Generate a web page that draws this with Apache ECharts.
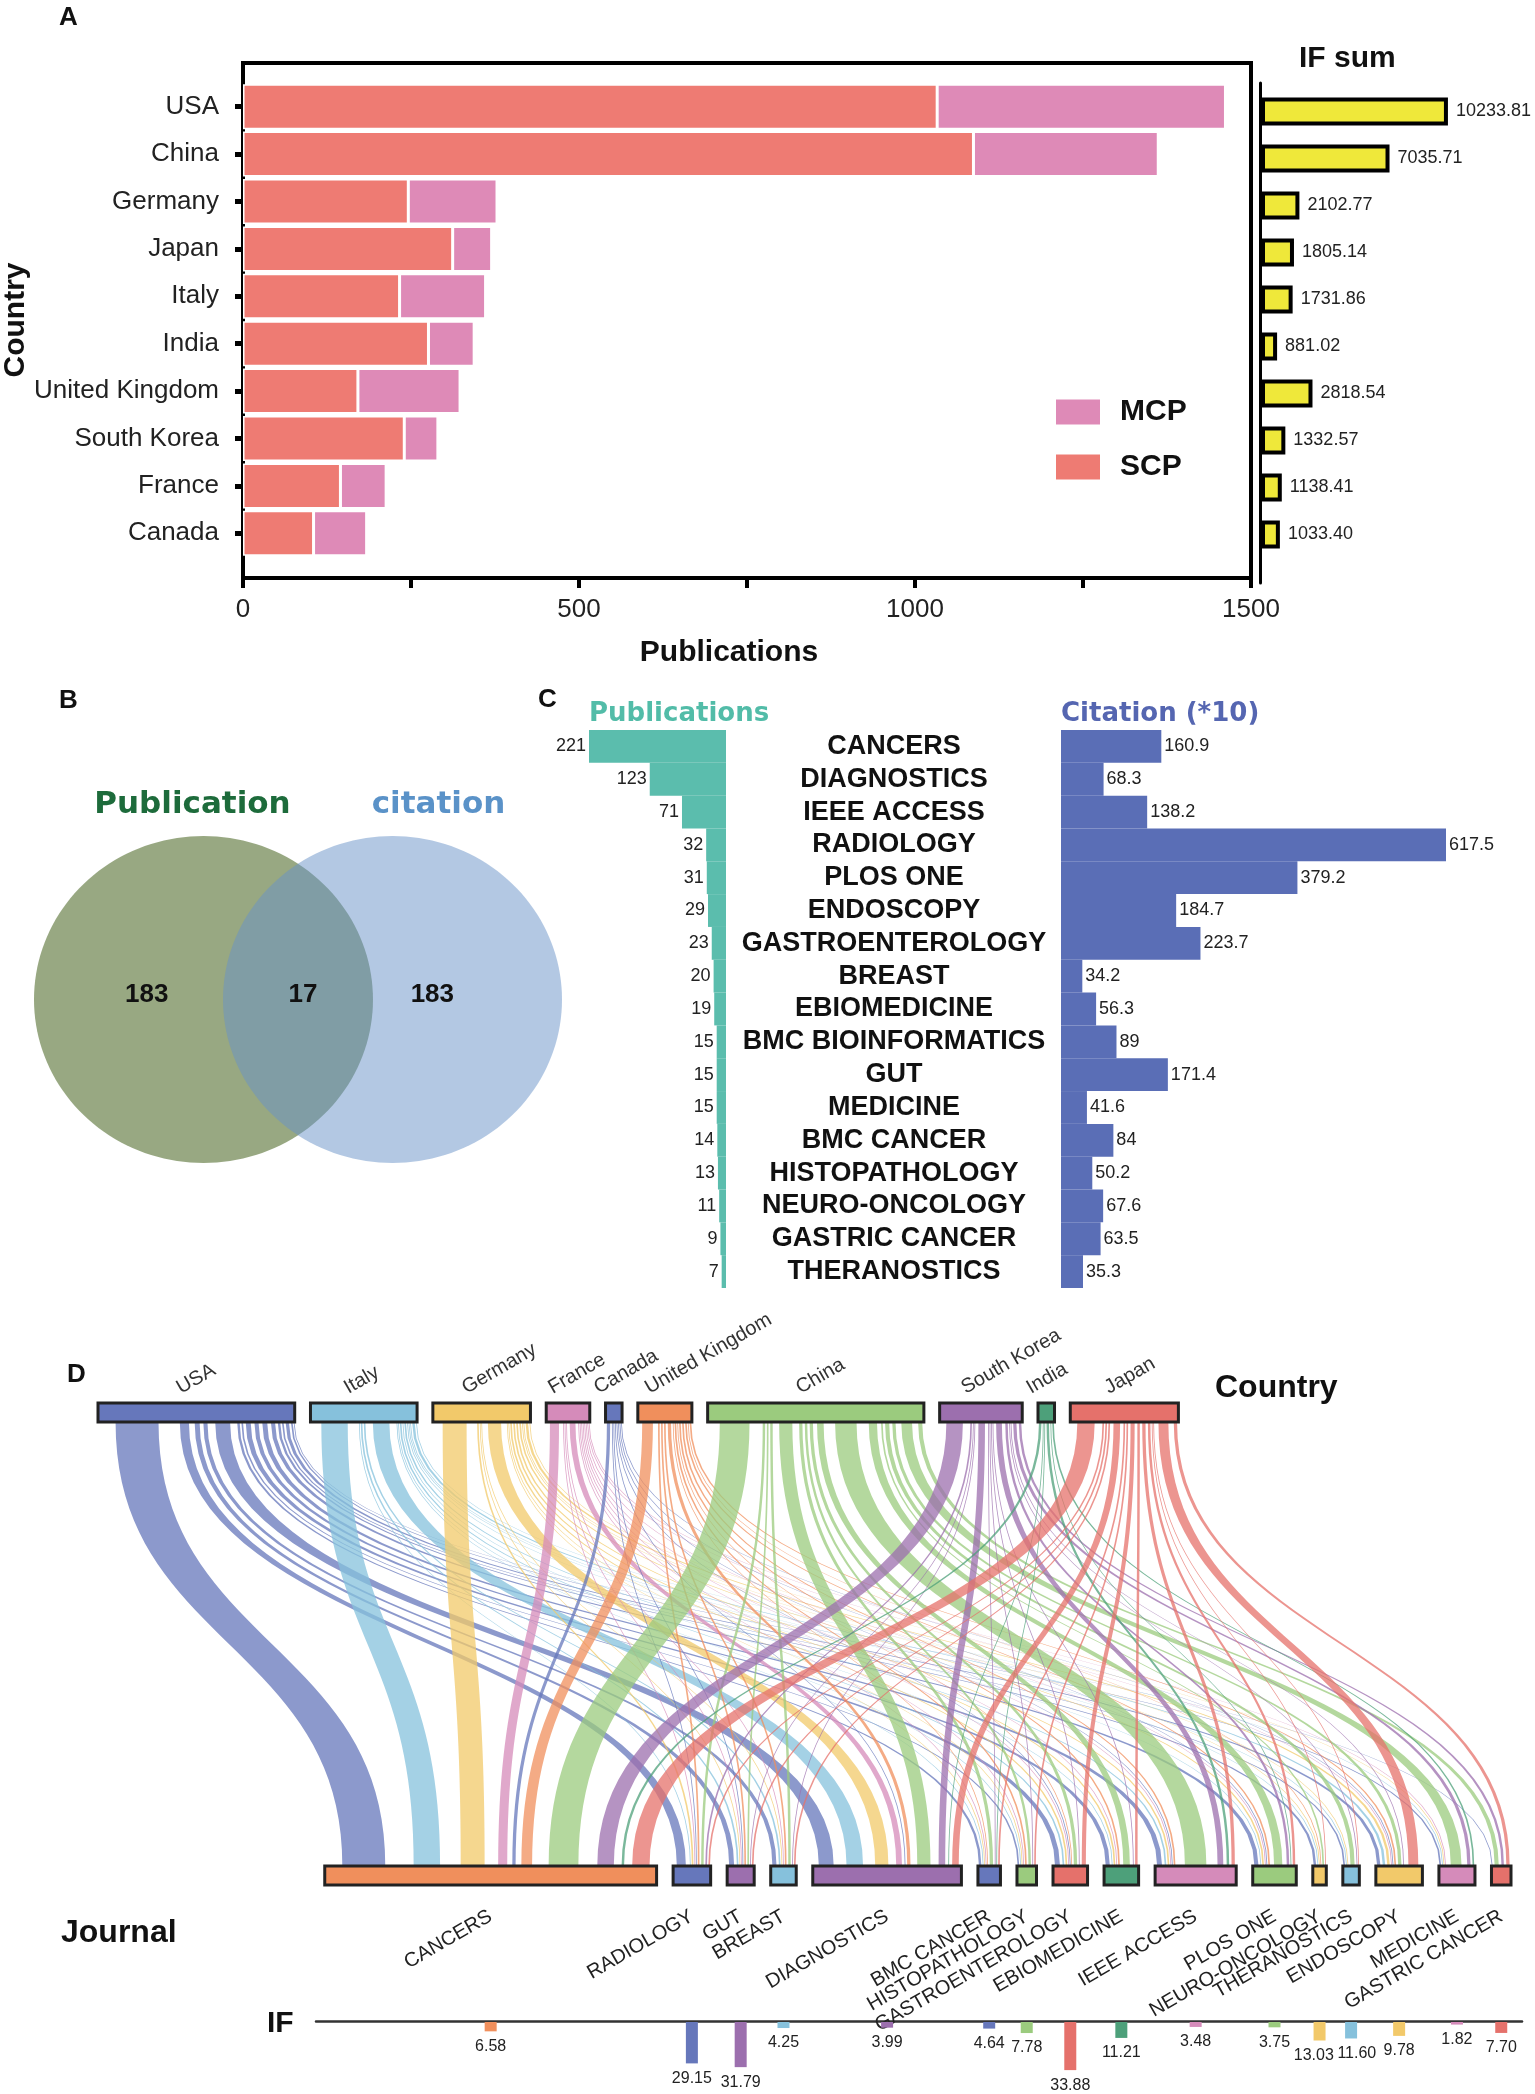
<!DOCTYPE html>
<html><head><meta charset="utf-8">
<script src="https://cdn.jsdelivr.net/npm/echarts/dist/echarts.min.js"></script>
<style>html,body{margin:0;padding:0;background:#fff}#c{width:1535px;height:2094px}</style>
</head><body><div id="c"></div>
<script>
// ---------------- Panel A data ----------------
const countriesA = ['USA', 'China', 'Germany', 'Japan', 'Italy', 'India', 'United Kingdom', 'South Korea', 'France', 'Canada'];
const scpValues = [1033, 1087, 246, 312, 233, 276, 171, 240, 145, 105];
const mcpValues = [429, 275, 132, 58, 128, 68, 152, 50, 68, 79];
const ifSumValues = [10233.81, 7035.71, 2102.77, 1805.14, 1731.86, 881.02, 2818.54, 1332.57, 1138.41, 1033.40];
const pubAxisLabels = [0, 500, 1000, 1500];

// ---------------- Panel B data ----------------
const vennNames = ['Publication', 'citation'];
const vennCounts = [183, 17, 183]; // publication only, both, citation only

// ---------------- Panel C data ----------------
const journalsC = ['CANCERS', 'DIAGNOSTICS', 'IEEE ACCESS', 'RADIOLOGY', 'PLOS ONE', 'ENDOSCOPY', 'GASTROENTEROLOGY', 'BREAST', 'EBIOMEDICINE', 'BMC BIOINFORMATICS', 'GUT', 'MEDICINE', 'BMC CANCER', 'HISTOPATHOLOGY', 'NEURO-ONCOLOGY', 'GASTRIC CANCER', 'THERANOSTICS'];
const pubsC = [221, 123, 71, 32, 31, 29, 23, 20, 19, 15, 15, 15, 14, 13, 11, 9, 7];
const citesC = [160.9, 68.3, 138.2, 617.5, 379.2, 184.7, 223.7, 34.2, 56.3, 89, 171.4, 41.6, 84, 50.2, 67.6, 63.5, 35.3];

// ---------------- Panel D data ----------------
const countriesD = ['USA', 'Italy', 'Germany', 'France', 'Canada', 'United Kingdom', 'China', 'South Korea', 'India', 'Japan'];
const countryColorsD = ['#6677BB', '#86C1DC', '#F2C96A', '#D58BBA', '#6677BB', '#F08F5C', '#9BCB7E', '#9C6FAE', '#4DA07A', '#E5716B'];
const journalsD = ['CANCERS', 'RADIOLOGY', 'GUT', 'BREAST', 'DIAGNOSTICS', 'BMC CANCER', 'HISTOPATHOLOGY', 'GASTROENTEROLOGY', 'EBIOMEDICINE', 'IEEE ACCESS', 'PLOS ONE', 'NEURO-ONCOLOGY', 'THERANOSTICS', 'ENDOSCOPY', 'MEDICINE', 'GASTRIC CANCER'];
const journalColorsD = ['#F08F5C', '#6677BB', '#9C6FAE', '#86C1DC', '#9C6FAE', '#6677BB', '#9BCB7E', '#E5716B', '#4DA07A', '#D58BBA', '#9BCB7E', '#F2C96A', '#86C1DC', '#F2C96A', '#D58BBA', '#E5716B'];
const journalIF = [6.58, 29.15, 31.79, 4.25, 3.99, 4.64, 7.78, 33.88, 11.21, 3.48, 3.75, 13.03, 11.60, 9.78, 1.82, 7.70];
// flows: publications from each country into each journal (journal order as journalsD)
const flowsUSA     = [52, 11, 6, 5, 18, 3, 2, 6, 5, 6, 5, 3, 2, 4, 2, 1];
const flowsItaly   = [32, 1, 2, 2, 20, 1, 1, 2, 1, 2, 1, 1, 1, 3, 1, 0];
const flowsGermany = [29, 2, 1, 1, 16, 1, 1, 2, 2, 2, 2, 1, 1, 3, 1, 0];
const flowsFrance  = [11, 1, 1, 1, 7, 1, 1, 1, 1, 1, 1, 0, 0, 1, 1, 0];
const flowsCanada  = [4, 1, 1, 0, 1, 0, 0, 1, 0, 1, 1, 0, 0, 1, 0, 0];
const flowsUK      = [13, 2, 2, 2, 4, 1, 2, 1, 2, 2, 2, 1, 0, 2, 0, 0];
const flowsChina   = [36, 3, 2, 3, 16, 4, 3, 4, 8, 26, 10, 2, 5, 4, 13, 5];
const flowsKorea   = [20, 2, 1, 1, 8, 1, 1, 1, 1, 7, 3, 0, 1, 1, 4, 3];
const flowsIndia   = [3, 0, 0, 0, 1, 1, 0, 0, 0, 3, 1, 0, 0, 0, 2, 0];
const flowsJapan   = [21, 2, 2, 2, 8, 2, 2, 5, 3, 4, 3, 1, 1, 12, 0, 4];
const flowMatrix = [flowsUSA, flowsItaly, flowsGermany, flowsFrance, flowsCanada, flowsUK, flowsChina, flowsKorea, flowsIndia, flowsJapan];

// ---------------- layout constants (style) ----------------
const FONT = '"Liberation Sans", Arial, sans-serif';
const HEAVY = '"DejaVu Sans", sans-serif';
const TOP_GAP = 10.5, BOT_GAP = 11, BOT_START = 151;
const NODE_H = 19, RIBBON_RATIO = 0.55;
const D_LEFT = 98, D_WIDTH = 1413, IF_LEFT = 316, IF_WIDTH = 1206;
const IF_TOP = 2021, IF_HEIGHT = 71, IF_AXIS_MAX = 50, IF_FONT = 16;

// ---------------- derived layout for the alluvial plot ----------------
const cTot = flowMatrix.map(r => r.reduce((a, b) => a + b, 0));
const jTot = journalsD.map((_, j) => flowMatrix.reduce((s, r) => s + r[j], 0));
const cX = []; let pos = 0;
cTot.forEach(t => { cX.push(pos); pos += t + TOP_GAP; });
const jX = []; pos = BOT_START;
jTot.forEach(t => { jX.push(pos); pos += t + BOT_GAP; });
const SPAN = pos - BOT_GAP;
const srcSlot = flowMatrix.map((r, i) => { let o = cX[i]; return r.map(v => { const s = o; o += v; return s; }); });
const tgtSlot = flowMatrix.map(r => r.map(() => 0));
journalsD.forEach((_, j) => { let o = jX[j]; flowMatrix.forEach((r, i) => { tgtSlot[i][j] = o; o += r[j]; }); });
const linkData = [];
flowMatrix.forEach((r, i) => r.forEach((v, j) => { if (v > 0) linkData.push([i, j, v, srcSlot[i][j], tgtSlot[i][j]]); }));
const nodeData = cTot.map((t, i) => [0, i, cX[i], t]).concat(jTot.map((t, j) => [1, j, jX[j], t]));
const ppu = D_WIDTH / SPAN;
const IF_MIN = (IF_LEFT - D_LEFT) / ppu, IF_MAX = IF_MIN + IF_WIDTH / ppu;

// IF labels: nudge apart labels that would collide (simple sweep)
const ifLabels = journalsD.map((_, j) => {
  const txt = journalIF[j].toFixed(2);
  const w = (txt.replace('.', '').length * 0.556 + 0.278) * IF_FONT;
  return { cx: (jX[j] + jTot[j] / 2) * ppu, y: journalIF[j] * IF_HEIGHT / IF_AXIS_MAX, w: w, dx: 0 };
});
for (let k = 1; k < ifLabels.length; k++) {
  const a = ifLabels[k - 1], b = ifLabels[k];
  const need = (a.w + b.w) / 2 + 3, have = (b.cx + b.dx) - (a.cx + a.dx);
  if (Math.abs(a.y - b.y) < IF_FONT && have < need) { const d = (need - have) / 2; a.dx -= d; b.dx += d; }
}
const ifData = journalsD.map((_, j) => [jX[j] + jTot[j] / 2, journalIF[j], j, ifLabels[j].dx]);

function cubic(p0, p1, p2, p3, t) { const u = 1 - t; return u * u * u * p0 + 3 * u * u * t * p1 + 3 * u * t * t * p2 + t * t * t * p3; }

function renderLink(params, api) {
  const ci = api.value(0), v = api.value(2), s = api.value(3), t = api.value(4);
  const half = v * RIBBON_RATIO / 2, sc = s + v / 2, tc = t + v / 2;
  const y0 = api.coord([0, 1])[1] + NODE_H;
  const y1 = api.coord([0, 0])[1] - NODE_H;
  const ym = (y0 + y1) / 2;
  const a0 = api.coord([sc - half, 1])[0], a1 = api.coord([sc + half, 1])[0];
  const b0 = api.coord([tc - half, 0])[0], b1 = api.coord([tc + half, 0])[0];
  const pts = [], N = 40;
  for (let k = 0; k <= N; k++) { const q = k / N; pts.push([cubic(a0, a0, b0, b0, q), cubic(y0, ym, ym, y1, q)]); }
  for (let k = N; k >= 0; k--) { const q = k / N; pts.push([cubic(a1, a1, b1, b1, q), cubic(y0, ym, ym, y1, q)]); }
  return { type: 'polygon', shape: { points: pts }, style: { fill: countryColorsD[ci], opacity: 0.75 } };
}

function renderNode(params, api) {
  const layer = api.value(0), idx = api.value(1), start = api.value(2), tot = api.value(3);
  const yv = layer === 0 ? 1 : 0;
  const p0 = api.coord([start, yv]), p1 = api.coord([start + tot, yv]);
  const y = layer === 0 ? p0[1] : p0[1] - NODE_H;
  const color = layer === 0 ? countryColorsD[idx] : journalColorsD[idx];
  const name = layer === 0 ? countriesD[idx] : journalsD[idx];
  const cx = (p0[0] + p1[0]) / 2;
  const label = layer === 0
    ? { type: 'text', x: cx - 13, y: y - 5, rotation: Math.PI / 6, style: { text: name, x: 0, y: 0, align: 'left', verticalAlign: 'bottom', font: '20px ' + FONT, fill: '#333' } }
    : { type: 'text', x: cx, y: y + NODE_H + 30, rotation: Math.PI / 6, style: { text: name, x: 0, y: 0, align: 'right', verticalAlign: 'middle', font: '20px ' + FONT, fill: '#222' } };
  return { type: 'group', children: [
    { type: 'rect', shape: { x: p0[0], y: y, width: p1[0] - p0[0], height: NODE_H }, style: { fill: color, stroke: '#222', lineWidth: 3 } },
    label
  ] };
}

function renderIF(params, api) {
  const x = api.value(0), v = api.value(1), ji = api.value(2), dx = api.value(3);
  const p0 = api.coord([x, 0]), p1 = api.coord([x, v]);
  return { type: 'group', children: [
    { type: 'rect', shape: { x: p0[0] - 6, y: p0[1] + 1, width: 12, height: p1[1] - p0[1] }, style: { fill: journalColorsD[ji] } },
    { type: 'text', style: { text: v.toFixed(2), x: p0[0] + dx, y: p1[1] + 8, align: 'center', verticalAlign: 'top', font: IF_FONT + 'px ' + FONT, fill: '#222' } }
  ] };
}

function ellipsePts(cx, cy, rx, ry) {
  const pts = [];
  for (let k = 0; k < 160; k++) { const a = k / 160 * Math.PI * 2; pts.push([cx + rx * Math.cos(a), cy + ry * Math.sin(a)]); }
  return pts;
}
function renderVenn(params, api) {
  const cs = params.coordSys;
  const ry = cs.height / 2, rx = cs.width * 0.321;
  const cy = cs.y + ry, cxL = cs.x + rx, cxR = cs.x + cs.width - rx;
  const numFont = 'bold 26px ' + FONT;
  return { type: 'group', children: [
    { type: 'polygon', shape: { points: ellipsePts(cxL, cy, rx, ry) }, style: { fill: '#315105', opacity: 0.5 } },
    { type: 'polygon', shape: { points: ellipsePts(cxR, cy, rx, ry) }, style: { fill: '#6791C7', opacity: 0.5 } },
    { type: 'text', style: { text: String(vennCounts[0]), x: cxL - 0.335 * rx, y: cy - 5, align: 'center', verticalAlign: 'middle', font: numFont, fill: '#111' } },
    { type: 'text', style: { text: String(vennCounts[1]), x: (cxL + cxR) / 2 + 5, y: cy - 5, align: 'center', verticalAlign: 'middle', font: numFont, fill: '#111' } },
    { type: 'text', style: { text: String(vennCounts[2]), x: cxR + 0.235 * rx, y: cy - 5, align: 'center', verticalAlign: 'middle', font: numFont, fill: '#111' } },
    { type: 'text', style: { text: vennNames[0], x: cxL - 11, y: cs.y - 31, align: 'center', verticalAlign: 'middle', font: 'bold 31px ' + HEAVY, fill: '#1D6B3B' } },
    { type: 'text', style: { text: vennNames[1], x: cxR + 46, y: cs.y - 31, align: 'center', verticalAlign: 'middle', font: 'bold 31px ' + HEAVY, fill: '#5A92C8' } }
  ] };
}

const hiddenValue = (gi, extra) => Object.assign({ type: 'value', gridIndex: gi, show: false }, extra || {});
const chart = echarts.init(document.getElementById('c'), null, { renderer: 'canvas' });
const ttl = (text, left, top, size, color, family) => ({ text, left, top, padding: 0, textStyle: { fontSize: size, fontWeight: 'bold', color: color || '#111', fontFamily: family || FONT } });

chart.setOption({
  animation: false,
  backgroundColor: '#fff',
  textStyle: { fontFamily: FONT },
  title: [
    ttl('A', 59, 5, 26), ttl('B', 59, 688, 26), ttl('C', 538, 687, 26), ttl('D', 67, 1362, 26),
    ttl('IF sum', 1299, 44, 30),
    ttl('Publications', 589, 701, 26, '#52BCA8', HEAVY),
    ttl('Citation (*10)', 1061, 701, 26, '#5566B1', HEAVY),
    ttl('Country', 1215, 1372, 32), ttl('Journal', 61, 1917, 32), ttl('IF', 267, 2009, 30)
  ],
  legend: {
    data: ['MCP', 'SCP'], orient: 'vertical', left: 1049, top: 392, itemWidth: 46, itemHeight: 27, itemGap: 25,
    icon: 'rect', textStyle: { fontSize: 30, fontWeight: 'bold', color: '#111', padding: [0, 0, 0, 14] }
  },
  grid: [
    { left: 243, top: 63, width: 1008, height: 515, show: true, borderColor: '#000', borderWidth: 4, backgroundColor: 'transparent', outerBoundsMode: 'none' },
    { left: 243, top: 83, width: 1008, height: 474, outerBoundsMode: 'none' },
    { left: 1261, top: 88, width: 274, height: 470, outerBoundsMode: 'none' },
    { left: 1260, top: 83, width: 10, height: 500, outerBoundsMode: 'none' },
    { left: 589, top: 730, width: 137, height: 558, outerBoundsMode: 'none' },
    { left: 1061, top: 730, width: 385, height: 558, outerBoundsMode: 'none' },
    { left: 34, top: 836, width: 528, height: 327, outerBoundsMode: 'none' },
    { left: D_LEFT, top: 1403, width: D_WIDTH, height: 482, outerBoundsMode: 'none' },
    { left: IF_LEFT, top: IF_TOP, width: IF_WIDTH, height: IF_HEIGHT, outerBoundsMode: 'none' }
  ],
  xAxis: [
    { type: 'value', gridIndex: 0, min: 0, max: 1500, interval: 250,
      axisLine: { show: true, lineStyle: { color: '#000', width: 4 } },
      axisTick: { show: true, length: 10, lineStyle: { color: '#000', width: 4 } },
      axisLabel: { fontSize: 26, color: '#222', margin: 19, formatter: v => pubAxisLabels.indexOf(v) >= 0 ? String(v) : '' },
      splitLine: { show: false },
      name: 'Publications', nameLocation: 'middle', nameGap: 60,
      nameTextStyle: { fontSize: 30, fontWeight: 'bold', color: '#111', padding: [0, 36, 0, 0] } },
    hiddenValue(1, { min: 0, max: 1500 }),
    hiddenValue(2, { min: 0, max: 15000 }),
    hiddenValue(3, { min: 0, max: 1 }),
    hiddenValue(4, { min: 0, max: 'dataMax', inverse: true }),
    hiddenValue(5, { min: 0, max: 'dataMax' }),
    hiddenValue(6, { min: 0, max: 1 }),
    hiddenValue(7, { min: 0, max: SPAN }),
    { type: 'value', gridIndex: 8, min: IF_MIN, max: IF_MAX, position: 'top',
      axisLine: { show: true, onZero: false, lineStyle: { color: '#333', width: 2.5 } },
      axisTick: { show: false }, axisLabel: { show: false }, splitLine: { show: false } }
  ],
  yAxis: [
    hiddenValue(0, { min: 0, max: 1 }),
    { type: 'category', gridIndex: 1, data: countriesA, inverse: true,
      axisLine: { show: true, lineStyle: { color: '#000', width: 4 } },
      axisTick: { show: true, alignWithLabel: true, length: 8, lineStyle: { color: '#000', width: 5 } },
      axisLabel: { fontSize: 26, color: '#222', margin: 24, interval: 0 },
      name: 'Country', nameLocation: 'middle', nameGap: 212, nameRotate: 90, nameMoveOverlap: false,
      nameTextStyle: { fontSize: 30, fontWeight: 'bold', color: '#111' } },
    { type: 'category', gridIndex: 2, data: countriesA, inverse: true, show: false },
    { type: 'value', gridIndex: 3, min: 0, max: 1,
      axisLine: { show: true, onZero: false, lineStyle: { color: '#000', width: 3 } },
      axisTick: { show: false }, axisLabel: { show: false }, splitLine: { show: false } },
    { type: 'category', gridIndex: 4, data: journalsC, inverse: true, show: false },
    { type: 'category', gridIndex: 5, data: journalsC, inverse: true,
      axisLine: { show: false }, axisTick: { show: false },
      axisLabel: { interval: 0, hideOverlap: false, align: 'center', margin: 167, fontSize: 27, fontWeight: 'bold', color: '#111' } },
    hiddenValue(6, { min: 0, max: 1 }),
    hiddenValue(7, { min: 0, max: 1 }),
    hiddenValue(8, { min: 0, max: IF_AXIS_MAX, inverse: true })
  ],
  series: [
    { name: 'SCP', type: 'bar', xAxisIndex: 1, yAxisIndex: 1, stack: 'pub', data: scpValues, barCategoryGap: '5%',
      itemStyle: { color: '#EE7B73', borderColor: '#fff', borderWidth: 1.5 } },
    { name: 'MCP', type: 'bar', xAxisIndex: 1, yAxisIndex: 1, stack: 'pub', data: mcpValues, barCategoryGap: '5%',
      itemStyle: { color: '#DE8AB7', borderColor: '#fff', borderWidth: 1.5 } },
    { name: 'IF sum', type: 'bar', xAxisIndex: 2, yAxisIndex: 2, data: ifSumValues, barWidth: 28,
      itemStyle: { color: '#EFE83A', borderColor: '#000', borderWidth: 4 },
      label: { show: true, position: 'right', distance: 8, fontSize: 18, color: '#222', formatter: p => p.value.toFixed(2) } },
    { name: 'Publications', type: 'bar', xAxisIndex: 4, yAxisIndex: 4, data: pubsC, barCategoryGap: '0%',
      itemStyle: { color: '#5BBDAD' },
      label: { show: true, position: 'left', distance: 3, fontSize: 18, color: '#222' } },
    { name: 'Citation', type: 'bar', xAxisIndex: 5, yAxisIndex: 5, data: citesC, barCategoryGap: '0%',
      itemStyle: { color: '#5A6EB6' },
      label: { show: true, position: 'right', distance: 3, fontSize: 18, color: '#222' } },
    { name: 'Venn', type: 'custom', xAxisIndex: 6, yAxisIndex: 6, data: [[0, 0]], renderItem: renderVenn, silent: true },
    { name: 'Flows', type: 'custom', xAxisIndex: 7, yAxisIndex: 7, data: linkData, renderItem: renderLink, silent: true },
    { name: 'Nodes', type: 'custom', xAxisIndex: 7, yAxisIndex: 7, data: nodeData, renderItem: renderNode, silent: true },
    { name: 'IF', type: 'custom', xAxisIndex: 8, yAxisIndex: 8, data: ifData, renderItem: renderIF, silent: true }
  ]
});
</script></body></html>
